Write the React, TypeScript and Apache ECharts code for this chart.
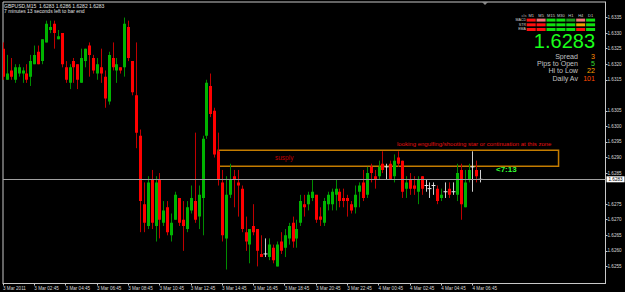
import React, { useEffect, useRef } from 'react';
import * as echarts from 'echarts';

// ---- Data (GBPUSD M15) ----
const symbol = 'GBPUSD';
const period = 'M15';
const opens = [
  1.6325, 1.6315, 1.6318, 1.6315, 1.6317, 1.6317, 1.6317, 1.6316, 1.632, 1.6324,
  1.6321, 1.6327, 1.6331, 1.6333, 1.6328, 1.633, 1.6319, 1.6314, 1.6321, 1.632,
  1.6314, 1.6321, 1.6326, 1.6322, 1.6317, 1.6319, 1.6316, 1.6308, 1.6322, 1.6318,
  1.6319, 1.6319, 1.6332, 1.6321, 1.631, 1.6297, 1.6275, 1.6268, 1.6283, 1.6268,
  1.6283, 1.6269, 1.6274, 1.6265, 1.627, 1.6277, 1.627, 1.6267, 1.6273, 1.6276,
  1.6271, 1.6277, 1.6297, 1.6313, 1.6305, 1.6292, 1.6282, 1.6264, 1.6278, 1.6284,
  1.6282, 1.628, 1.6266, 1.6262, 1.6268, 1.6267, 1.6259, 1.6259, 1.6258, 1.6261,
  1.6255, 1.6263, 1.6261, 1.6264, 1.6269, 1.6264, 1.6269, 1.6275, 1.6275, 1.6277,
  1.6278, 1.6271, 1.6269, 1.6275, 1.6275, 1.6278, 1.6279, 1.6277, 1.6277, 1.6275,
  1.6274, 1.6279, 1.6282, 1.6278, 1.6287, 1.6284, 1.6284, 1.6288, 1.6287, 1.6288,
  1.6284, 1.629, 1.6289, 1.628, 1.6283, 1.6281, 1.6279, 1.6284, 1.6281, 1.628,
  1.6281, 1.628, 1.6277, 1.6279, 1.628, 1.6279, 1.6278, 1.6286, 1.6274, 1.6283,
  1.6287, 1.6286, 1.6283,
];
const highs = [
  1.6327, 1.6323, 1.6322, 1.632, 1.632, 1.6319, 1.632, 1.6323, 1.6326, 1.6326,
  1.6328, 1.6334, 1.6334, 1.6334, 1.6331, 1.633, 1.6321, 1.632, 1.6322, 1.632,
  1.6325, 1.6325, 1.6327, 1.6323, 1.6322, 1.6325, 1.6318, 1.6324, 1.6327, 1.6322,
  1.6319, 1.6335, 1.6334, 1.6321, 1.6327, 1.6299, 1.6282, 1.6284, 1.6286, 1.6284,
  1.6285, 1.6276, 1.6276, 1.6272, 1.6279, 1.6277, 1.6276, 1.6276, 1.6281, 1.6298,
  1.6281, 1.6297, 1.6315, 1.6317, 1.6306, 1.6298, 1.6286, 1.6284, 1.6288, 1.6286,
  1.6286, 1.6281, 1.6271, 1.6267, 1.6275, 1.6267, 1.6265, 1.6264, 1.6264, 1.6262,
  1.6263, 1.6266, 1.6267, 1.6269, 1.6271, 1.627, 1.6278, 1.6278, 1.6279, 1.6283,
  1.6278, 1.6274, 1.6277, 1.6279, 1.628, 1.6283, 1.628, 1.628, 1.6278, 1.6276,
  1.6281, 1.6282, 1.6286, 1.6287, 1.6288, 1.6286, 1.6289, 1.6292, 1.6288, 1.6289,
  1.6291, 1.6292, 1.6289, 1.6284, 1.6285, 1.6284, 1.6284, 1.6284, 1.6283, 1.6282,
  1.6282, 1.6281, 1.628, 1.6282, 1.6282, 1.6282, 1.6288, 1.6288, 1.6286, 1.6288,
  1.6292, 1.6289, 1.6286,
];
const lows = [
  1.6315, 1.6315, 1.6315, 1.6314, 1.6316, 1.6314, 1.6314, 1.6313, 1.632, 1.632,
  1.632, 1.6327, 1.633, 1.6325, 1.6328, 1.6319, 1.6314, 1.6312, 1.6314, 1.6312,
  1.6314, 1.6319, 1.6316, 1.6317, 1.6315, 1.6314, 1.6306, 1.6307, 1.6318, 1.6314,
  1.6317, 1.6316, 1.6321, 1.631, 1.6293, 1.6266, 1.6266, 1.6267, 1.6267, 1.6263,
  1.6264, 1.6268, 1.6265, 1.6263, 1.627, 1.6268, 1.626, 1.6266, 1.6272, 1.6269,
  1.6267, 1.6265, 1.6296, 1.6303, 1.629, 1.6281, 1.6263, 1.6254, 1.6277, 1.6274,
  1.6271, 1.6266, 1.626, 1.6256, 1.6265, 1.6255, 1.6258, 1.6258, 1.6257, 1.6256,
  1.6255, 1.6259, 1.6258, 1.6262, 1.6261, 1.6261, 1.6268, 1.6271, 1.6273, 1.6276,
  1.6269, 1.6268, 1.6268, 1.6273, 1.6273, 1.6273, 1.6274, 1.6274, 1.6271, 1.6272,
  1.6272, 1.6274, 1.6276, 1.6277, 1.6282, 1.628, 1.6283, 1.6285, 1.6283, 1.6283,
  1.6282, 1.6287, 1.6277, 1.6277, 1.6278, 1.6278, 1.6275, 1.6278, 1.6279, 1.6277,
  1.6278, 1.6275, 1.6276, 1.6277, 1.6277, 1.6278, 1.6276, 1.627, 1.6274, 1.6282,
  1.6279, 1.6282, 1.6282,
];
const closes = [
  1.6316, 1.6317, 1.6316, 1.6319, 1.6319, 1.6318, 1.6315, 1.6321, 1.6323, 1.632,
  1.6328, 1.6333, 1.6332, 1.633, 1.6329, 1.632, 1.6315, 1.6319, 1.6319, 1.6315,
  1.6322, 1.6325, 1.6323, 1.6318, 1.632, 1.6317, 1.6309, 1.6323, 1.6319, 1.632,
  1.6318, 1.6333, 1.6322, 1.6311, 1.6298, 1.6276, 1.6269, 1.6282, 1.6269, 1.6282,
  1.627, 1.6273, 1.6266, 1.6269, 1.6278, 1.6269, 1.6268, 1.6274, 1.6277, 1.627,
  1.6278, 1.6296, 1.6314, 1.6304, 1.6291, 1.6283, 1.6265, 1.6278, 1.6283, 1.6283,
  1.6281, 1.6267, 1.6263, 1.6267, 1.6266, 1.626, 1.6258, 1.6259, 1.6262, 1.6257,
  1.6262, 1.626, 1.6265, 1.6268, 1.6263, 1.6267, 1.6276, 1.6274, 1.6278, 1.6279,
  1.627, 1.627, 1.6276, 1.6278, 1.6279, 1.628, 1.6276, 1.6276, 1.6276, 1.6273,
  1.6278, 1.6281, 1.6277, 1.6285, 1.6285, 1.6283, 1.6287, 1.6286, 1.6287, 1.6283,
  1.6289, 1.6288, 1.6279, 1.6282, 1.628, 1.628, 1.6283, 1.628, 1.6281, 1.628,
  1.6281, 1.6276, 1.6278, 1.6279, 1.6278, 1.6279, 1.6285, 1.6275, 1.6282, 1.6286,
  1.6287, 1.6284, 1.6283,
];

const tickLabels = [
  '3 Mar 2011', '3 Mar 02:45', '3 Mar 04:45', '3 Mar 06:45', '3 Mar 08:45', '3 Mar 10:45',
  '3 Mar 12:45', '3 Mar 14:45', '3 Mar 16:45', '3 Mar 18:45', '3 Mar 20:45', '3 Mar 22:45',
  '4 Mar 00:45', '4 Mar 02:45', '4 Mar 04:45', '4 Mar 06:45',
];
const BARS_PER_TICK = 8;
const SLOT_COUNT = 155; // bar slots visible incl. chart shift space
const yTickValues = [
  1.6255, 1.626, 1.6265, 1.627, 1.6275, 1.6285, 1.629, 1.6295, 1.63, 1.6305,
  1.6315, 1.632, 1.6325, 1.633, 1.6335,
];

const zoneTop = 1.62923;
const zoneBottom = 1.62872;
const zoneStartBar = 55;
const zoneEndBar = 142;
const zoneLabel = 'susply';
const noteText = 'looking engulfing/shooting star or continuation at this zone';
const timerText = '<7:13';
const timeLeftText = '7 minutes 13 seconds left to bar end';

const panelTimeframes = ['M1', 'M5', 'M15', 'M30', 'H1', 'H4', 'D1'];
const panelRows = ['MACD', 'STR', 'EMA'];
const panelStates = [
  ['dn', 'wdn', 'up', 'up', 'wup', 'wdn', 'up'],
  ['dn', 'dn', 'up', 'up', 'up', 'flat', 'up'],
  ['dn', 'dn', 'up', 'up', 'up', 'dn', 'up'],
];
const statLabels = ['Spread', 'Pips to Open', 'Hi to Low', 'Daily Av'];
const statValues = [3, 5, 22, 101];

const FONT = 'Liberation Sans, Arial, sans-serif';

export default function App() {
  const ref = useRef<HTMLDivElement>(null);
  useEffect(() => {
    if (!ref.current) return;
    const chart = echarts.init(ref.current, undefined, { renderer: 'svg' });
    const n = opens.length;
    const lastO = opens[n - 1], lastH = highs[n - 1], lastL = lows[n - 1], lastC = closes[n - 1];
    const categories = Array.from({ length: SLOT_COUNT }, (_, i) => String(i));
    const candleData = opens.map((o, i) => [i, o, highs[i], lows[i], closes[i]]);
    const tickShown = (i: number) => i % BARS_PER_TICK === 0 && i / BARS_PER_TICK < tickLabels.length;

    const stateColor: Record<string, string> = {
      dn: '#ff1010', wdn: '#f07878', up: '#10e010', wup: '#1f9a1f', flat: '#f0a000',
    };
    const statColors = ['#ff8c00', '#33dd33', '#ffa500', '#ff4a00'];

    const graphics: any[] = [];
    graphics.push({
      type: 'text', x: 4, y: 6,
      style: { text: `${symbol},${period}  ${lastO.toFixed(4)} ${lastH.toFixed(4)} ${lastL.toFixed(4)} ${lastC.toFixed(4)}`, fill: '#e0e0e0', fontSize: 5, fontFamily: FONT, verticalAlign: 'middle' },
    });
    graphics.push({
      type: 'text', x: 4, y: 11,
      style: { text: timeLeftText, fill: '#e0e0e0', fontSize: 5, fontFamily: FONT, verticalAlign: 'middle' },
    });
    graphics.push({ type: 'polygon', shape: { points: [[482, 2], [488, 2], [485, 5]] }, style: { fill: '#8a8a8a' } });
    graphics.push({ type: 'text', x: 524, y: 15.7, style: { text: 'cls', fill: '#b0b0b0', fontSize: 4, fontFamily: FONT, align: 'center', verticalAlign: 'middle' } });
    panelTimeframes.forEach((tf, k) => {
      graphics.push({ type: 'text', x: 531.2 + k * 9.9, y: 15.7, style: { text: tf, fill: '#d0d0d0', fontSize: 4, fontFamily: FONT, align: 'center', verticalAlign: 'middle' } });
    });
    panelRows.forEach((row, r) => {
      graphics.push({ type: 'text', x: 526, y: 20 + r * 4.7, style: { text: row, fill: '#d0d0d0', fontSize: 3.6, fontFamily: FONT, align: 'right', verticalAlign: 'middle' } });
      panelStates[r].forEach((s, k) => {
        graphics.push({ type: 'rect', shape: { x: 526.7 + k * 9.9, y: 18.6 + r * 4.7, width: 9, height: 3 }, style: { fill: stateColor[s] } });
      });
    });
    graphics.push({ type: 'text', x: 595, y: 41, style: { text: lastC.toFixed(4), fill: '#1aff1a', fontSize: 20, lineHeight: 18, fontFamily: FONT, align: 'right', verticalAlign: 'middle' } });
    statLabels.forEach((lab, k) => {
      const y = 56.6 + k * 7.35;
      graphics.push({ type: 'text', x: 578, y, style: { text: lab, fill: '#c0c0c0', fontSize: 7.1, lineHeight: 7, fontFamily: FONT, align: 'right', verticalAlign: 'middle' } });
      graphics.push({ type: 'text', x: 595, y, style: { text: String(statValues[k]), fill: statColors[k], fontSize: 7.1, lineHeight: 7, fontFamily: FONT, align: 'right', verticalAlign: 'middle' } });
    });
    graphics.push({ type: 'text', x: 275, y: 157.5, style: { text: zoneLabel, fill: '#c00000', fontSize: 6.5, fontFamily: FONT, verticalAlign: 'middle' } });
    graphics.push({ type: 'text', x: 397, y: 144, style: { text: noteText, fill: '#e81010', fontSize: 6, fontFamily: FONT, verticalAlign: 'middle' } });
    graphics.push({ type: 'text', x: 496, y: 169.5, style: { text: timerText, fill: '#33ff33', fontSize: 8, fontWeight: 'bold', fontFamily: FONT, verticalAlign: 'middle' } });

    chart.setOption({
      animation: false,
      backgroundColor: '#000000',
      grid: { left: 2, right: 19.5, top: 2, bottom: 8.5, show: true, borderColor: '#c8c8c8', borderWidth: 1, backgroundColor: '#000000' },
      xAxis: {
        type: 'category', data: categories, boundaryGap: false,
        axisLine: { show: true, lineStyle: { color: '#c8c8c8', width: 1 } },
        axisTick: { show: true, interval: (i: number) => tickShown(i), length: 2, lineStyle: { color: '#c8c8c8' } },
        axisLabel: {
          interval: (i: number) => tickShown(i),
          formatter: (_v: string, i: number) => tickLabels[i / BARS_PER_TICK] ?? '',
          align: 'left', color: '#d8d8d8', fontSize: 4.6, margin: 2, fontFamily: FONT,
        },
        splitLine: { show: false },
      },
      yAxis: {
        type: 'value', position: 'right', min: 1.62495, max: 1.634,
        axisLine: { show: true, lineStyle: { color: '#c8c8c8', width: 1 } },
        axisTick: { show: true, length: 2, customValues: yTickValues, lineStyle: { color: '#c8c8c8' } },
        axisLabel: { customValues: yTickValues, formatter: (v: number) => v.toFixed(4), color: '#d8d8d8', fontSize: 4.6, margin: 2, fontFamily: FONT },
        splitLine: { show: false },
      },
      graphic: graphics,
      series: [
        {
          type: 'custom',
          clip: true,
          data: candleData,
          encode: { x: 0, y: [1, 2, 3, 4] },
          renderItem: (_params: any, api: any) => {
            const idx = api.value(0);
            const o = api.value(1), h = api.value(2), l = api.value(3), c = api.value(4);
            const pO = api.coord([idx, o]);
            const yC = api.coord([idx, c])[1];
            const yH = api.coord([idx, h])[1];
            const yL = api.coord([idx, l])[1];
            const bw = api.size([1, 0])[0];
            const w = Math.max(1, Math.round(bw * 0.72));
            const up = c > o, down = c < o;
            const bodyColor = up ? '#00b400' : down ? '#ff0000' : '#e8e8e8';
            const wickColor = up ? '#008c00' : down ? '#c00000' : '#d0d0d0';
            const xr = Math.round(pO[0]) + 0.5;
            const children: any[] = [
              { type: 'line', shape: { x1: xr, y1: yH, x2: xr, y2: yL }, style: { stroke: wickColor, lineWidth: 1 } },
            ];
            if (up || down) {
              const top = Math.min(pO[1], yC);
              const hgt = Math.max(1, Math.abs(pO[1] - yC));
              children.push({ type: 'rect', shape: { x: xr - w / 2, y: top, width: w, height: hgt }, style: { fill: bodyColor } });
            } else {
              children.push({ type: 'line', shape: { x1: xr - w / 2 - 0.5, y1: pO[1], x2: xr + w / 2 + 0.5, y2: pO[1] }, style: { stroke: bodyColor, lineWidth: 1 } });
            }
            return { type: 'group', children };
          },
        },
        {
          type: 'line',
          data: [],
          silent: true,
          markLine: {
            silent: true, symbol: ['none', 'none'], precision: 5,
            data: [{ yAxis: lastC }],
            lineStyle: { color: '#a0a0a0', width: 1, type: 'solid' },
            label: {
              show: true, position: 'end', formatter: () => lastC.toFixed(4), distance: 1,
              backgroundColor: '#ffffff', color: '#000000', fontSize: 4.6, fontFamily: FONT, padding: [1, 2, 0, 2],
            },
          },
          markArea: {
            silent: true,
            itemStyle: { color: 'rgba(0,0,0,0)', borderColor: '#c47c00', borderWidth: 1.5 },
            data: [[{ xAxis: zoneStartBar, yAxis: zoneTop }, { xAxis: zoneEndBar, yAxis: zoneBottom }]],
          },
        },
      ],
    });
    return () => chart.dispose();
  }, []);
  return <div ref={ref} style={{ position: 'fixed', left: 0, top: 0, width: 625, height: 292, background: '#000' }} />;
}
